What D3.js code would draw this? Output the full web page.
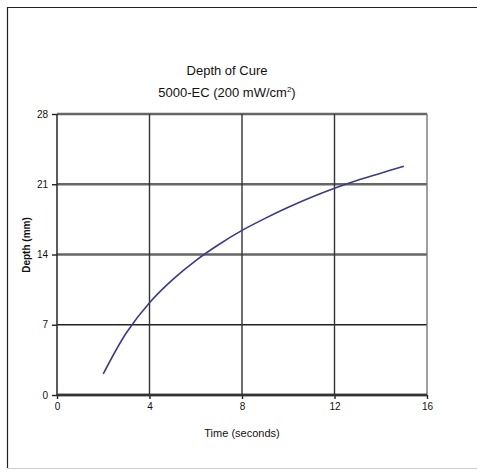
<!DOCTYPE html>
<html>
<head>
<meta charset="utf-8">
<script src="https://cdn.jsdelivr.net/npm/d3@7"></script>
<style>
  body { margin: 0; background: #fff; }
  text { font-family: "Liberation Sans", Arial, sans-serif; fill: #111; }
</style>
</head>
<body>
<div id="chart"></div>
<script>
// data
const times = [2, 3, 4, 5, 6, 7, 8, 9, 10, 11, 12, 13, 14, 15];
const depths = [2.1, 6.2, 9.2, 11.5, 13.4, 15.0, 16.4, 17.6, 18.7, 19.7, 20.6, 21.4, 22.1, 22.8];
const xTicks = [0, 4, 8, 12, 16];
const yTicks = [0, 7, 14, 21, 28];

const W = 477, H = 473;
const margin = {top: 114, right: 50, bottom: 78, left: 57},
    width = W - margin.left - margin.right,
    height = H - margin.top - margin.bottom;

const svgRoot = d3.select("#chart")
  .append("svg")
    .attr("width", W)
    .attr("height", H);

// outer frame (right side runs off the page)
svgRoot.append("path")
  .attr("d", `M${W + 2},7.5 H7.5 V468`)
  .attr("fill", "none")
  .attr("stroke", "#222")
  .attr("stroke-width", 1.2);
svgRoot.append("line")
  .attr("x1", 7.5).attr("x2", W).attr("y1", 468.5).attr("y2", 468.5)
  .attr("stroke", "#ccc");

const svg = svgRoot.append("g")
  .attr("transform", `translate(${margin.left}, ${margin.top})`);

const x = d3.scaleLinear().domain([0, 16]).range([0, width]);
const y = d3.scaleLinear().domain([0, 28]).range([height, 0]);

// horizontal grid
svg.selectAll(".hgrid")
  .data(yTicks)
  .enter().append("line")
    .attr("class", "hgrid")
    .attr("x1", 0).attr("x2", width)
    .attr("y1", d => y(d)).attr("y2", d => y(d))
    .attr("stroke", d => d === 7 ? "#222" : "#666")
    .attr("stroke-width", d => d === 7 ? 1.6 : 2.4);

// vertical grid
svg.selectAll(".vgrid")
  .data(xTicks)
  .enter().append("line")
    .attr("class", "vgrid")
    .attr("x1", d => x(d)).attr("x2", d => x(d))
    .attr("y1", 0).attr("y2", height)
    .attr("stroke", d => d === 16 ? "#777" : "#333")
    .attr("stroke-width", d => d === 0 ? 1.6 : 1.4);

// axes
const xAxis = svg.append("g")
  .attr("transform", `translate(0, ${height})`)
  .call(d3.axisBottom(x).tickValues(xTicks).tickSize(4).tickPadding(4));
const yAxis = svg.append("g")
  .call(d3.axisLeft(y).tickValues(yTicks).tickSize(5).tickPadding(4));

[xAxis, yAxis].forEach(a => {
  a.select(".domain").remove();
  a.selectAll(".tick line").attr("stroke", "#222").attr("stroke-width", 1.4);
  a.selectAll(".tick text")
    .style("font-family", "'Liberation Sans', Arial, sans-serif")
    .style("font-size", "10px")
    .attr("fill", "#111");
});
svg.append("line")
  .attr("x1", 0).attr("x2", width)
  .attr("y1", height).attr("y2", height)
  .attr("stroke", "#333").attr("stroke-width", 2.4);

// the curve
const line = d3.line()
  .x((d, i) => x(times[i]))
  .y(d => y(d))
  .curve(d3.curveCatmullRom.alpha(0.5));
svg.append("path")
  .datum(depths)
  .attr("d", line)
  .attr("fill", "none")
  .attr("stroke", "#3a3a8c")
  .attr("stroke-width", 1.6);

// titles
svgRoot.append("text")
  .attr("x", 227).attr("y", 75)
  .attr("text-anchor", "middle")
  .style("font-size", "13px")
  .text("Depth of Cure");
const sub = svgRoot.append("text")
  .attr("x", 227).attr("y", 97)
  .attr("text-anchor", "middle")
  .style("font-size", "13px");
sub.append("tspan").text("5000-EC (200 mW/cm");
sub.append("tspan").attr("dy", -5).style("font-size", "8px").text("2");
sub.append("tspan").attr("dy", 5).text(")");

// axis labels
svgRoot.append("text")
  .attr("x", margin.left + width / 2).attr("y", 437)
  .attr("text-anchor", "middle")
  .style("font-size", "11px")
  .text("Time (seconds)");
svgRoot.append("text")
  .attr("transform", "translate(30, 245) rotate(-90)")
  .attr("text-anchor", "middle")
  .style("font-size", "10px")
  .style("font-weight", "bold")
  .text("Depth (mm)");
</script>
</body>
</html>
